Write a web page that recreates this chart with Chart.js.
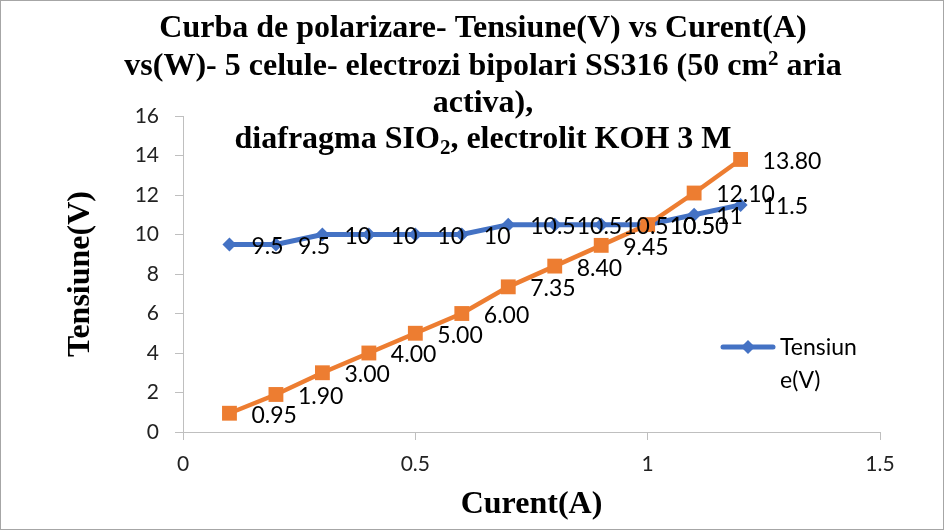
<!DOCTYPE html>
<html lang="ro">
<head>
  <meta charset="UTF-8">
  <title>Curba de polarizare</title>
  <script src="https://cdn.jsdelivr.net/npm/chart.js"></script>
  <style>
    html, body { margin: 0; padding: 0; background: #fff; }
    #cadru { width: 946px; height: 531px; position: relative; }
  </style>
</head>
<body>
  <div id="cadru"><canvas id="graficPolarizare"></canvas></div>
  <script>
    // Masuratori: curent (A), tensiune (V), putere (W)
    const curent = [0.1, 0.2, 0.3, 0.4, 0.5, 0.6, 0.7, 0.8, 0.9, 1.0, 1.1, 1.2];
    const tensiune = [9.5, 9.5, 10, 10, 10, 10, 10.5, 10.5, 10.5, 10.5, 11, 11.5];
    const putere = [0.95, 1.90, 3.00, 4.00, 5.00, 6.00, 7.35, 8.40, 9.45, 10.50, 12.10, 13.80];
    const ticksX = [0, 0.5, 1, 1.5];
    const ticksY = [0, 2, 4, 6, 8, 10, 12, 14, 16];

    const ALBASTRU = "#4472C4";
    const PORTOCALIU = "#ED7D31";
    const SERIF = "'Liberation Serif', 'Times New Roman', serif";
    const SANS = "Lato, 'Open Sans', sans-serif";

    // Titlul pe mai multe randuri, cu indice si exponent
    const randuriTitlu = [
      [{ t: "Curba de polarizare- Tensiune(V) vs Curent(A)" }],
      [{ t: "vs(W)- 5 celule- electrozi bipolari SS316 (50 cm" }, { t: "2", sus: true }, { t: " aria" }],
      [{ t: "activa)," }],
      [{ t: "diafragma SIO" }, { t: "2", jos: true }, { t: ", electrolit KOH 3 M" }]
    ];

    const chenar = {
      id: "chenar",
      beforeDraw(chart) {
        const ctx = chart.ctx;
        ctx.save();
        ctx.fillStyle = "#fff";
        ctx.fillRect(0, 0, chart.width, chart.height);
        ctx.strokeStyle = "#a6a6a6";
        ctx.lineWidth = 1;
        ctx.strokeRect(0.5, 0.5, chart.width - 3, chart.height - 2);
        ctx.restore();
      }
    };

    const eticheteValori = {
      id: "eticheteValori",
      afterDatasetsDraw(chart) {
        const ctx = chart.ctx;
        ctx.save();
        ctx.font = "23px " + SANS;
        ctx.fillStyle = "#000";
        ctx.textBaseline = "middle";
        chart.data.datasets.forEach((ds, i) => {
          const meta = chart.getDatasetMeta(i);
          meta.data.forEach((pt, j) => {
            const v = ds.data[j].y;
            const text = i === 0 ? String(v) : v.toFixed(2);
            ctx.fillText(text, pt.x + 22, pt.y + 2);
          });
        });
        ctx.restore();
      }
    };

    const titluSiLegenda = {
      id: "titluSiLegenda",
      afterDraw(chart) {
        const ctx = chart.ctx;
        ctx.save();
        ctx.fillStyle = "#000";
        ctx.textBaseline = "alphabetic";
        const marime = 32;
        const baze = [37, 75, 112, 148];
        randuriTitlu.forEach((rand, k) => {
          const fontRun = r => "bold " + ((r.sus || r.jos) ? Math.round(marime * 0.65) : marime) + "px " + SERIF;
          let total = 0;
          rand.forEach(r => { ctx.font = fontRun(r); total += ctx.measureText(r.t).width; });
          let x = 483 - total / 2;
          rand.forEach(r => {
            ctx.font = fontRun(r);
            let y = baze[k];
            if (r.sus) y -= 10;
            if (r.jos) y += 6;
            ctx.fillText(r.t, x, y);
            x += ctx.measureText(r.t).width;
          });
        });

        // legenda doar pentru seria de tensiune
        ctx.strokeStyle = ALBASTRU;
        ctx.lineWidth = 5;
        ctx.lineCap = "round";
        ctx.beginPath();
        ctx.moveTo(723, 347);
        ctx.lineTo(773, 347);
        ctx.stroke();
        ctx.fillStyle = ALBASTRU;
        ctx.beginPath();
        ctx.moveTo(748, 340);
        ctx.lineTo(755, 347);
        ctx.lineTo(748, 354);
        ctx.lineTo(741, 347);
        ctx.closePath();
        ctx.fill();
        ctx.fillStyle = "#000";
        ctx.font = "23px " + SANS;
        ctx.textBaseline = "middle";
        ctx.fillText("Tensiun", 780, 348);
        ctx.fillText("e(V)", 780, 381);
        ctx.restore();
      }
    };

    const ctx = document.getElementById("graficPolarizare").getContext("2d");
    new Chart(ctx, {
      type: "line",
      data: {
        datasets: [
          {
            label: "Tensiune(V)",
            data: curent.map((c, i) => ({ x: c, y: tensiune[i] })),
            borderColor: ALBASTRU,
            backgroundColor: ALBASTRU,
            borderWidth: 5,
            pointStyle: "rectRot",
            pointRadius: 7,
            pointBorderWidth: 0,
            order: 1
          },
          {
            label: "Putere(W)",
            data: curent.map((c, i) => ({ x: c, y: putere[i] })),
            borderColor: PORTOCALIU,
            backgroundColor: PORTOCALIU,
            borderWidth: 4.5,
            pointStyle: "rect",
            pointRadius: 10.5,
            pointBorderWidth: 0,
            order: 0
          }
        ]
      },
      options: {
        responsive: true,
        maintainAspectRatio: false,
        animation: false,
        layout: { padding: { left: 0, top: 116, right: 66, bottom: 0 } },
        plugins: {
          legend: { display: false },
          title: { display: false },
          tooltip: { enabled: false }
        },
        scales: {
          x: {
            type: "linear",
            min: 0,
            max: 1.5,
            afterBuildTicks: s => { s.ticks = ticksX.map(v => ({ value: v })); },
            afterFit: s => { s.height = 99; },
            ticks: { font: { family: SANS, size: 21 }, color: "#222", padding: 12, callback: v => String(v) },
            grid: { drawOnChartArea: false, drawTicks: true, tickLength: 8, color: "#bfbfbf" },
            border: { display: true, color: "#bfbfbf" },
            title: {
              display: true,
              text: "Curent(A)",
              color: "#000",
              font: { family: SERIF, weight: "bold", size: 32 },
              padding: { top: 0, bottom: 7 }
            }
          },
          y: {
            min: 0,
            max: 16,
            afterBuildTicks: s => { s.ticks = ticksY.map(v => ({ value: v })); },
            afterFit: s => { s.width = 183; },
            ticks: { font: { family: SANS, size: 21 }, color: "#222", padding: 16, callback: v => String(v) },
            grid: { drawOnChartArea: false, drawTicks: true, tickLength: 8, color: "#bfbfbf" },
            border: { display: true, color: "#bfbfbf" },
            title: {
              display: true,
              text: "Tensiune(V)",
              color: "#000",
              font: { family: SERIF, weight: "bold", size: 32 },
              padding: { top: 62, bottom: 0 }
            }
          }
        }
      },
      plugins: [chenar, eticheteValori, titluSiLegenda]
    });
  </script>
</body>
</html>
